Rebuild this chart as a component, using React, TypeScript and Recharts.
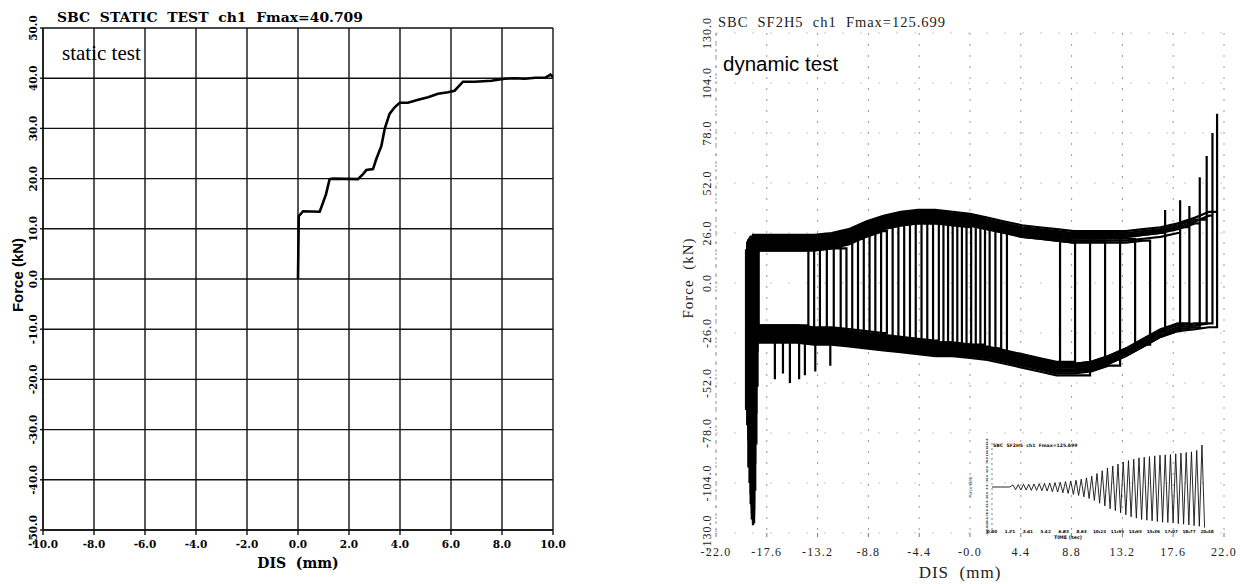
import React from 'react';
import { LineChart, Line, XAxis, YAxis, CartesianGrid } from 'recharts';

// ---------------- Static test (left) ----------------
const staticDis = [0, 0.03, 0.2, 0.85, 0.98, 1.1, 1.24, 1.37, 2.35, 2.55, 2.68, 2.94, 3.07, 3.27, 3.4, 3.59, 3.79, 3.99, 4.31, 4.71, 5.1, 5.49, 5.88, 6.14, 6.47, 6.93, 7.58, 8.1, 8.5, 8.9, 9.3, 9.7, 9.9, 10];
const staticForce = [0, 12.5, 13.5, 13.4, 15.2, 16.9, 19.9, 20, 19.9, 20.9, 21.7, 21.9, 23.9, 26.5, 29.9, 32.9, 34.2, 35.1, 35.1, 35.7, 36.2, 36.9, 37.2, 37.5, 39.3, 39.3, 39.5, 39.9, 40, 39.9, 40.1, 40.1, 40.7, 40.2];
const staticXTicks = [-10, -8, -6, -4, -2, 0, 2, 4, 6, 8, 10];
const staticYTicks = [-50, -40, -30, -20, -10, 0, 10, 20, 30, 40, 50];

// ---------------- Dynamic test (right) ----------------
const dynXTicks = [-22, -17.6, -13.2, -8.8, -4.4, 0, 4.4, 8.8, 13.2, 17.6, 22];
const dynXTickLabels = ['-22.0', '-17.6', '-13.2', '-8.8', '-4.4', '-0.0', '4.4', '8.8', '13.2', '17.6', '22.0'];
const dynYTicks = [-130, -104, -78, -52, -26, 0, 26, 52, 78, 104, 130];
const dynYTickLabels = ['-130.0', '-104.0', '-78.0', '-52.0', '-26.0', '0.0', '26.0', '52.0', '78.0', '104.0', '130.0'];

// friction branches (displacement mm, force kN)
const branchDis = [-18.0, -16.5, -15.0, -13.5, -12.0, -10.5, -9.0, -7.5, -6.0, -4.5, -3.0, -1.5, 0.0, 1.5, 3.0, 4.5, 6.0, 7.5, 9.0, 10.5, 12.0, 13.5, 15.0, 16.5, 18.0, 19.5, 20.7];
const upperBranchForce = [20, 20, 20, 20, 21, 23, 27, 30, 32, 33, 33, 32, 31, 29, 27, 25, 24, 23, 22, 22, 22, 22, 23, 24, 26, 29, 32];
const lowerBranchForce = [-26, -26, -26, -27, -27, -28, -29, -30, -31, -32, -33, -33, -34, -35, -37, -39, -41, -43, -43, -42, -39, -35, -30, -25, -22, -21, -20];

// one entry per cycle
const cycleRightDis = [-14.0, -13.5, -13.0, -12.4, -11.8, -11.2, -10.7, -10.2, -9.7, -9.2, -8.7, -8.2, -7.7, -7.2, -6.7, -6.2, -5.7, -5.2, -4.7, -4.2, -3.7, -3.2, -2.7, -2.3, -1.9, -1.5, -1.1, -0.7, -0.3, 0.1, 0.5, 0.9, 1.3, 1.7, 2.2, 2.7, 3.2, 7.8, 9.1, 10.4, 11.7, 13.0, 14.3, 15.6, 16.9, 18.2, 19.0, 19.9, 20.5, 21.0, 21.4];
const cycleLeftDis = [-18.3, -18.6, -18.4, -18.9, -18.5, -19.1, -18.7, -19.3, -18.4, -19.0, -18.6, -19.2, -18.8, -19.4, -18.5, -19.0, -18.7, -19.3, -18.6, -19.1, -18.8, -19.2, -18.5, -19.0, -18.7, -19.1, -18.9, -18.6, -19.2, -18.8, -19.0, -18.7, -19.1, -18.9, -18.6, -19.0, -18.8, -18.9, -18.7, -19.0, -18.8, -18.9, -18.7, -18.8, -18.9, -18.7, -18.8, -18.9, -18.8, -18.7, -18.8];
const cycleUpperShift = [-3, -1, 1, -2, 2, 0, -3, 1, 3, 0, -2, 2, 1, -3, 3, 0, 2, -1, 1, 3, 0, 2, -2, 4, 1, -1, 3, 0, 2, -2, 4, 1, 3, 0, 2, -1, 3, 1, -1, 2, 0, 3, 1, -1, 2, 0, 3, 2, 4, 3, 5];
const cycleLowerShift = [4, 2, 0, 3, -1, 1, 3, 0, -2, 2, 1, -1, 0, 4, -2, 1, -3, 2, 0, -4, 1, -2, 3, -1, -3, 2, 0, -2, 1, -4, 0, -3, 2, -1, -4, 1, -2, -3, 2, -5, 0, -4, 1, -2, 0, -3, 1, -2, 0, -1, -3];
const cycleLeftDip = [-30, -33, -36, -39, -42, -45, -48, -51, -54, -57, -60, -62, -64, -66, -68, -70, -72, -74, -76, -78, -80, -82, -84, -86, -88, -90, -92, -94, -96, -98, -100, -102, -104, -106, -108, -110, -111, -112, -114, -115, -116, -117, -118, -119, -120, -121, -122, -123, -124, -125, -126];
const cycleRightPeak: (number | null)[] = [null, null, null, null, null, null, null, null, null, null, null, null, null, null, null, null, null, null, null, null, null, null, null, null, null, null, null, null, null, null, null, null, null, null, null, null, null, null, null, null, null, null, null, null, 38, 43, 40, 55, 66, 78, 88];
const cycleLowerSpikeDis: (number | null)[] = [null, -16.9, null, -15.6, null, -14.3, null, -13.4, null, -12.1, null, -16.2, null, null, -14.8, null, null, null, null, null, null, null, null, null, null, null, null, null, null, null, null, null, null, null, null, null, null, null, null, null, null, null, null, null, null, null, null, null, null, null, null];
const cycleLowerSpikeForce: (number | null)[] = [null, -50, null, -52, null, -48, null, -46, null, -43, null, -47, null, null, -50, null, null, null, null, null, null, null, null, null, null, null, null, null, null, null, null, null, null, null, null, null, null, null, null, null, null, null, null, null, null, null, null, null, null, null, null];

// inset: force time history
const insetTime = [0.0, 1.7,
  2.0, 2.25, 2.5, 2.75, 3.0, 3.25, 3.5, 3.75, 4.0, 4.25,
  4.5, 4.75, 5.0, 5.25, 5.5, 5.75, 6.0, 6.25, 6.5, 6.75,
  7.0, 7.25, 7.5, 7.75, 8.0, 8.25, 8.5, 8.75, 9.0, 9.25,
  9.5, 9.75, 10.0, 10.25, 10.5, 10.75, 11.0, 11.25, 11.5, 11.75,
  12.0, 12.25, 12.5, 12.75, 13.0, 13.25, 13.5, 13.75, 14.0, 14.25,
  14.5, 14.75, 15.0, 15.25, 15.5, 15.75, 16.0, 16.25, 16.5, 16.75,
  17.0, 17.25, 17.5, 17.75, 18.0, 18.25, 18.5, 18.75, 19.0, 19.25,
  19.5, 19.75, 20.0, 20.25];
const insetForce = [0, 0,
  6, -8, 7, -9, 8, -9, 8, -10, 9, -10,
  10, -11, 11, -12, 12, -14, 13, -15, 14, -17,
  16, -19, 18, -22, 20, -25, 23, -29, 27, -34,
  32, -40, 40, -48, 48, -56, 56, -64, 62, -70,
  68, -76, 74, -82, 78, -88, 82, -92, 86, -96,
  88, -98, 90, -100, 92, -102, 94, -104, 95, -105,
  96, -106, 98, -108, 100, -110, 102, -112, 104, -114,
  108, -116, 124, -120];
const insetTimeTicks = [0, 1.71, 3.41, 5.12, 6.83, 8.53, 10.24, 11.95, 13.65, 15.36, 17.07, 18.77, 20.48];
const insetYTicks = [-130, -104, -78, -52, -26, 0, 26, 52, 78, 104, 130];

// ---------------- build tables ----------------
const staticData = staticDis.map((d, i) => ({ x: d, f: staticForce[i] }));

type Pt = { x: number; f: number };
const loops: Pt[][] = cycleRightDis.map((R, i) => {
  const L = cycleLeftDis[i];
  const us = cycleUpperShift[i];
  const ls = cycleLowerShift[i];
  const idx: number[] = [];
  branchDis.forEach((d, k) => { if (d > L && d < R) idx.push(k); });
  const lastK = idx.length ? idx[idx.length - 1] : 0;
  const startLower = lowerBranchForce[0] + ls;
  const pts: Pt[] = [];
  pts.push({ x: L, f: startLower });
  pts.push({ x: L, f: cycleLeftDip[i] });
  pts.push({ x: L, f: upperBranchForce[0] + us });
  idx.forEach((k) => pts.push({ x: branchDis[k], f: upperBranchForce[k] + us }));
  pts.push({ x: R, f: upperBranchForce[lastK] + us });
  const pk = cycleRightPeak[i];
  if (pk !== null) pts.push({ x: R, f: pk });
  pts.push({ x: R, f: lowerBranchForce[lastK] + ls });
  const sx = cycleLowerSpikeDis[i];
  const sf = cycleLowerSpikeForce[i];
  let spikeDone = sx === null;
  let prev = pts[pts.length - 1];
  idx.slice().reverse().forEach((k) => {
    if (!spikeDone && sx !== null && sf !== null && sx < prev.x && sx >= branchDis[k]) {
      pts.push({ x: sx, f: prev.f }, { x: sx, f: sf }, { x: sx, f: prev.f });
      spikeDone = true;
    }
    prev = { x: branchDis[k], f: lowerBranchForce[k] + ls };
    pts.push(prev);
  });
  if (!spikeDone && sx !== null && sf !== null && sx > L) {
    pts.push({ x: sx, f: prev.f }, { x: sx, f: sf }, { x: sx, f: prev.f });
  }
  pts.push({ x: L, f: startLower });
  return pts;
});

const insetData = insetTime.map((t, i) => ({ x: t, f: insetForce[i] }));

// ---------------- tick renderers ----------------
const boldSerif = "'DejaVu Serif', serif";
const lightSerif = "'Liberation Serif', 'Times New Roman', serif";

const LeftYTick = (props: any) => {
  const { y, payload } = props;
  const x = 33;
  return (
    <text x={x} y={y} transform={`rotate(-90 ${x} ${y})`} textAnchor="middle" dominantBaseline="central"
      fontFamily={boldSerif} fontWeight="bold" fontSize={10.5} fill="#000">
      {Number(payload.value).toFixed(1)}
    </text>
  );
};
const LeftXTick = (props: any) => {
  const { x, payload } = props;
  return (
    <text x={x} y={548} textAnchor="middle" fontFamily={boldSerif} fontWeight="bold" fontSize={10.5} fill="#000">
      {Number(payload.value).toFixed(1)}
    </text>
  );
};
const RightYTick = (props: any) => {
  const { y, payload } = props;
  const x = 67;
  const i = dynYTicks.indexOf(payload.value);
  return (
    <text x={x} y={y} transform={`rotate(-90 ${x} ${y})`} textAnchor="middle" dominantBaseline="central"
      fontFamily={lightSerif} fontSize={12} letterSpacing={1} fill="#222">
      {dynYTickLabels[i]}
    </text>
  );
};
const RightXTick = (props: any) => {
  const { x, payload } = props;
  const i = dynXTicks.indexOf(payload.value);
  return (
    <text x={x} y={556} textAnchor="middle" fontFamily={lightSerif} fontSize={12} letterSpacing={1.2} fill="#222">
      {dynXTickLabels[i]}
    </text>
  );
};
const InsetXTick = (props: any) => {
  const { x, payload } = props;
  return (
    <text x={x} y={113} textAnchor="middle" fontFamily="'DejaVu Sans', sans-serif" fontWeight="bold" fontSize={4.2} fill="#111">
      {Number(payload.value).toFixed(2)}
    </text>
  );
};
const InsetYTick = (props: any) => {
  const { y, payload } = props;
  const x = 27;
  return (
    <text x={x} y={y} transform={`rotate(-90 ${x} ${y})`} textAnchor="middle" dominantBaseline="central"
      fontFamily="'DejaVu Sans', sans-serif" fontWeight="bold" fontSize={2.8} fill="#111">
      {Number(payload.value).toFixed(1)}
    </text>
  );
};

export default function App() {
  return (
    <div style={{ position: 'absolute', left: 0, top: 0, width: 1240, height: 584, background: '#fff', overflow: 'hidden' }}>
      {/* static chart */}
      <div style={{ position: 'absolute', left: 0, top: 0 }}>
        <LineChart width={580} height={584} margin={{ top: 28, right: 27, left: 0, bottom: 0 }}>
          <CartesianGrid stroke="#111" strokeWidth={1.4} />
          <XAxis dataKey="x" type="number" domain={[-10, 10]} ticks={staticXTicks} allowDataOverflow
            height={54} axisLine={{ stroke: '#111', strokeWidth: 1.4 }} tickLine={{ stroke: '#111', strokeWidth: 1.4 }} tickSize={5} tick={<LeftXTick />} interval={0} />
          <YAxis dataKey="f" type="number" domain={[-50, 50]} ticks={staticYTicks} allowDataOverflow
            width={43} axisLine={{ stroke: '#111', strokeWidth: 1.4 }} tickLine={{ stroke: '#111', strokeWidth: 1.4 }} tickSize={3} tick={<LeftYTick />} interval={0} />
          <Line data={staticData} dataKey="f" stroke="#000" strokeWidth={2.6} dot={false} isAnimationActive={false} type="linear" />
        </LineChart>
      </div>

      {/* dynamic chart */}
      <div style={{ position: 'absolute', left: 640, top: 0 }}>
        <LineChart width={600} height={584} margin={{ top: 33, right: 16, left: 0, bottom: 0 }}>
          <CartesianGrid stroke="#9a9a9a" strokeWidth={1} strokeDasharray="2 9" horizontal={false} />
          <CartesianGrid stroke="#c8c8c8" strokeWidth={1} strokeDasharray="2 16" vertical={false} />
          <XAxis dataKey="x" type="number" domain={[-22, 22]} ticks={dynXTicks} allowDataOverflow interval={0}
            height={51} axisLine={false} tickLine={{ stroke: '#777', strokeWidth: 1 }} tickSize={4} tick={<RightXTick />} />
          <YAxis dataKey="f" type="number" domain={[-130, 130]} ticks={dynYTicks} allowDataOverflow interval={0}
            width={76} axisLine={{ stroke: '#999', strokeWidth: 1, strokeDasharray: '3 5' }} tickLine={false} tick={<RightYTick />} />
          {loops.map((pts, i) => (
            <Line key={i} data={pts} dataKey="f" stroke="#000" strokeWidth={2.2} dot={false} isAnimationActive={false} type="linear" />
          ))}
        </LineChart>
      </div>

      {/* inset time history */}
      <div style={{ position: 'absolute', left: 960, top: 420 }}>
        <LineChart width={270} height={130} margin={{ top: 23, right: 23, left: 0, bottom: 0 }}>
          <XAxis dataKey="x" type="number" domain={[0, 20.48]} ticks={insetTimeTicks} allowDataOverflow interval={0}
            height={19} axisLine={false} tickLine={{ stroke: '#333', strokeWidth: 0.8 }} tickSize={2} tick={<InsetXTick />} />
          <YAxis dataKey="f" type="number" domain={[-130, 130]} ticks={insetYTicks} allowDataOverflow interval={0}
            width={32} axisLine={{ stroke: '#666', strokeWidth: 0.8, strokeDasharray: '2 3' }} tickLine={false} tick={<InsetYTick />} />
          <Line data={insetData} dataKey="f" stroke="#111" strokeWidth={0.9} dot={false} isAnimationActive={false} type="linear" />
        </LineChart>
      </div>

      {/* texts */}
      <svg width={1240} height={584} style={{ position: 'absolute', left: 0, top: 0, pointerEvents: 'none' }}>
        <text x={57} y={22} fontFamily={boldSerif} fontWeight="bold" fontSize={12.5} textLength={306} lengthAdjust="spacingAndGlyphs" style={{ whiteSpace: 'pre' }}>SBC  STATIC  TEST  ch1  Fmax=40.709</text>
        <text x={62} y={60} fontFamily={lightSerif} fontSize={21}>static test</text>
        <text x={17} y={275} transform="rotate(-90 17 275)" textAnchor="middle" dominantBaseline="central" fontFamily="'Liberation Sans', Arial, sans-serif" fontWeight="bold" fontSize={15}>Force (kN)</text>
        <text x={298} y={568} textAnchor="middle" fontFamily={boldSerif} fontWeight="bold" fontSize={14} style={{ whiteSpace: 'pre' }}>DIS  (mm)</text>

        <text x={718} y={27} fontFamily={lightSerif} fontSize={14.5} fill="#222" textLength={227} lengthAdjust="spacing" style={{ whiteSpace: 'pre' }}>SBC  SF2H5  ch1  Fmax=125.699</text>
        <text x={723} y={71} fontFamily="'Liberation Sans', Arial, sans-serif" fontSize={20.5}>dynamic test</text>
        <text x={688} y={278} transform="rotate(-90 688 278)" textAnchor="middle" dominantBaseline="central" fontFamily={lightSerif} fontSize={15} letterSpacing={1} fill="#222" style={{ whiteSpace: 'pre' }}>Force  (kN)</text>
        <text x={960} y={578} textAnchor="middle" fontFamily={lightSerif} fontSize={17} letterSpacing={1} fill="#222" style={{ whiteSpace: 'pre' }}>DIS  (mm)</text>

        <text x={993} y={447} fontFamily="'DejaVu Sans', sans-serif" fontWeight="bold" fontSize={4.6} fill="#111" style={{ whiteSpace: 'pre' }}>SBC  SF2H5  ch1  Fmax=125.699</text>
        <text x={1068} y={539} textAnchor="middle" fontFamily="'DejaVu Sans', sans-serif" fontWeight="bold" fontSize={4.8} fill="#111">TIME (sec)</text>
        <text x={970} y={487} transform="rotate(-90 970 487)" textAnchor="middle" dominantBaseline="central" fontFamily="'DejaVu Sans', sans-serif" fontSize={4.2} fill="#333">Force (kN)</text>
      </svg>
    </div>
  );
}
